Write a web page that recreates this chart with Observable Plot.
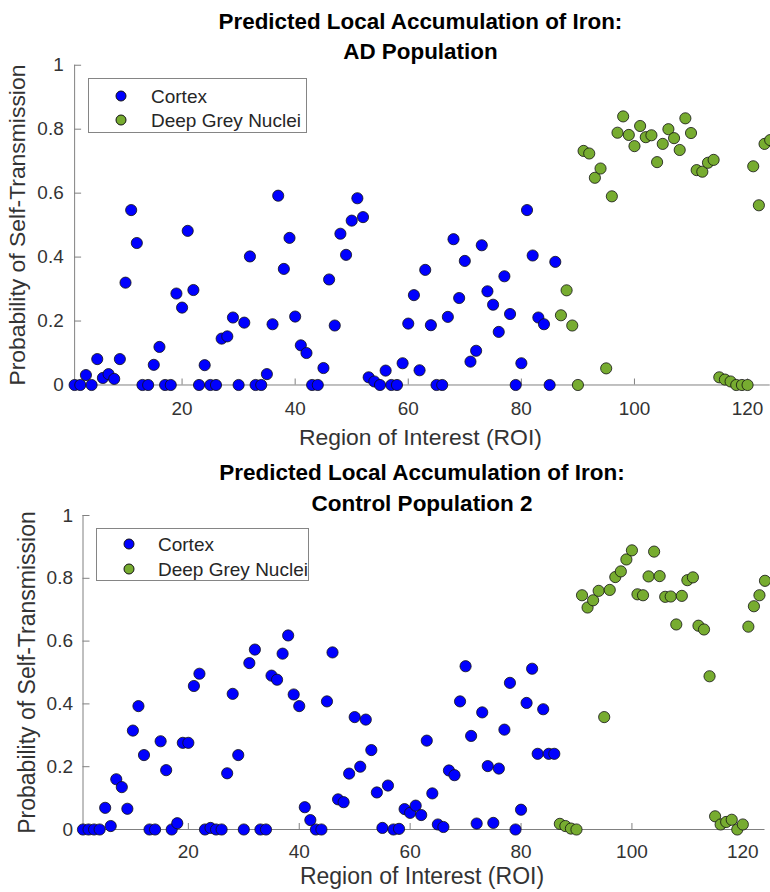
<!DOCTYPE html>
<html><head><meta charset="utf-8">
<script src="https://cdn.jsdelivr.net/npm/d3@7"></script>
<script src="https://cdn.jsdelivr.net/npm/@observablehq/plot@0.6"></script>
<style>
body{margin:0;background:#fff;font-family:"Liberation Sans",Arial,sans-serif;}
#wrap{position:relative;width:770px;height:892px;overflow:hidden;background:#fff;}
.legend{position:absolute;background:#fff;border:1px solid #858585;box-sizing:border-box;}
.legend .lab{position:absolute;font-size:19px;color:#262626;line-height:1;white-space:nowrap;transform:translateY(-50%);}
.legend .dot{position:absolute;width:11px;height:11px;border-radius:50%;border:0.8px solid #111;box-sizing:border-box;transform:translate(-50%,-50%);}
</style></head><body><div id="wrap"></div><script>
// ---- data ----
const xTicks = [20, 40, 60, 80, 100, 120];
const yTicks = [0, 0.2, 0.4, 0.6, 0.8, 1];
const yTickLabels = ["0", "0.2", "0.4", "0.6", "0.8", "1"];
const seriesNames = ["Cortex", "Deep Grey Nuclei"];
const seriesColors = ["#0000ff", "#77ac30"];
const titleLine1 = "Predicted Local Accumulation of Iron:";
const panelTitles = ["AD Population", "Control Population 2"];
const xLabel = "Region of Interest (ROI)";
const yLabel = "Probability of Self-Transmission";

// AD population: ROI 1-86 cortex, ROI 87-124 deep grey nuclei
const adCortex = [0,0,0.031,0,0.081,0.022,0.034,0.019,0.081,0.32,
  0.547,0.444,0,0,0.063,0.119,0,0,0.286,0.242,
  0.482,0.297,0,0.062,0,0,0.145,0.152,0.211,0,
  0.195,0.402,0,0,0.034,0.19,0.592,0.363,0.46,0.214,
  0.124,0.1,0,0,0.053,0.33,0.186,0.473,0.407,0.514,
  0.584,0.525,0.024,0.011,0,0.045,0,0,0.068,0.192,
  0.281,0.046,0.36,0.187,0,0,0.213,0.456,0.272,0.388,
  0.073,0.107,0.437,0.293,0.251,0.166,0.34,0.222,0,0.068,
  0.547,0.405,0.211,0.19,0,0.385];
const adDeepGrey = [0.218,0.296,0.186,0,0.732,0.724,0.648,0.677,0.052,0.59,
  0.789,0.84,0.782,0.747,0.81,0.775,0.781,0.697,0.754,0.8,
  0.772,0.735,0.834,0.788,0.672,0.667,0.695,0.704,0.024,0.017,
  0.011,0,0,0,0.684,0.562,0.754,0.766];

// Control population 2
const ctrlCortex = [0,0,0,0,0.069,0.011,0.16,0.135,0.066,0.315,
  0.393,0.237,0,0,0.281,0.189,0,0.02,0.276,0.276,
  0.457,0.496,0,0.005,0,0,0.179,0.432,0.237,0,
  0.53,0.573,0,0,0.49,0.477,0.56,0.618,0.43,0.393,
  0.071,0.03,0,0,0.408,0.564,0.096,0.087,0.178,0.358,
  0.2,0.35,0.253,0.118,0.005,0.14,0,0.002,0.065,0.053,
  0.076,0.046,0.283,0.115,0.016,0.008,0.188,0.173,0.408,0.52,
  0.298,0.019,0.373,0.202,0.021,0.194,0.318,0.467,0,0.063,
  0.403,0.512,0.241,0.383,0.241,0.241];
const ctrlDeepGrey = [0.018,0.011,0.003,0,0.746,0.707,0.73,0.76,0.358,0.763,
  0.804,0.822,0.86,0.889,0.749,0.746,0.806,0.885,0.807,0.741,
  0.742,0.653,0.744,0.794,0.803,0.649,0.637,0.488,0.042,0.016,
  0.024,0.031,0,0.016,0.646,0.711,0.746,0.792];

// ---- drawing ----
const wrap = document.getElementById("wrap");
const axisColor = "#808080";
const textColor = "#333333";
const font = '"Liberation Sans", Arial, sans-serif';

function toRows(cortex, deep) {
  const rows = cortex.map((v, i) => ({roi: i + 1, value: v, group: seriesNames[0]}));
  deep.forEach((v, i) => rows.push({roi: cortex.length + i + 1, value: v, group: seriesNames[1]}));
  return rows;
}

function makePanel(c) {
  const rows = toRows(c.cortex, c.deep);
  const svg = Plot.plot({
    width: c.width, height: c.height,
    marginTop: c.mTop, marginBottom: c.mBottom, marginLeft: c.mLeft, marginRight: c.mRight,
    x: {domain: [1, 124], axis: null},
    y: {domain: [0, 1], axis: null},
    color: {domain: seriesNames, range: seriesColors},
    style: {fontFamily: font, fontSize: "19px", background: "white", overflow: "visible", color: textColor},
    marks: [
      Plot.ruleY([0], {stroke: axisColor, strokeWidth: 1}),
      Plot.ruleX([1], {stroke: axisColor, strokeWidth: 1}),
      Plot.ruleX(xTicks, {x: d => d, y1: 0, y2: 0, insetBottom: 6, stroke: axisColor}),
      Plot.ruleY(yTicks, {y: d => d, x1: 1, x2: 1, insetLeft: 7, stroke: axisColor}),
      Plot.text(xTicks, {x: d => d, y: 0, text: d => String(d), dy: c.tickDy, lineAnchor: "bottom", fontSize: 19, fill: textColor}),
      Plot.text(yTicks, {x: 1, y: d => d, text: (d, i) => yTickLabels[i], dx: c.yTickDx, textAnchor: "end", lineAnchor: "middle", fontSize: 19, fill: textColor}),
      Plot.dot(rows, {x: "roi", y: "value", fill: "group", r: 5.6, stroke: "#111", strokeWidth: 0.8}),
      Plot.text([titleLine1], {frameAnchor: "top", dy: c.title1Dy, dx: -2, textAnchor: "middle", lineAnchor: "bottom", fontWeight: "bold", fontSize: 22.5, fill: "#000"}),
      Plot.text([c.title2], {frameAnchor: "top", dy: c.title2Dy, dx: -2, textAnchor: "middle", lineAnchor: "bottom", fontWeight: "bold", fontSize: 22.5, fill: "#000"}),
      Plot.text([xLabel], {frameAnchor: "bottom", dy: c.xLabelDy, dx: -2, textAnchor: "middle", lineAnchor: "bottom", fontSize: 23, fill: textColor}),
      Plot.text([yLabel], {frameAnchor: "left", rotate: -90, dx: c.yLabelX - c.mLeft, textAnchor: "middle", lineAnchor: "bottom", fontSize: 23, fill: textColor})
    ]
  });
  svg.style.position = "absolute";
  svg.style.left = "0px";
  svg.style.top = c.top + "px";
  wrap.appendChild(svg);

  // legend (HTML overlay)
  const L = c.legend;
  const box = document.createElement("div");
  box.className = "legend";
  Object.assign(box.style, {left: L.left + "px", top: L.top + "px", width: L.width + "px", height: L.height + "px"});
  seriesNames.forEach((name, i) => {
    const dot = document.createElement("div");
    dot.className = "dot";
    Object.assign(dot.style, {left: L.dotX + "px", top: L.rows[i] + "px", background: seriesColors[i]});
    const lab = document.createElement("div");
    lab.className = "lab";
    lab.textContent = name;
    Object.assign(lab.style, {left: L.textX + "px", top: L.rows[i] + "px"});
    box.appendChild(dot); box.appendChild(lab);
  });
  wrap.appendChild(box);
}

makePanel({
  cortex: adCortex, deep: adDeepGrey, title2: panelTitles[0],
  top: 0, width: 773, height: 455, mTop: 65, mBottom: 69, mLeft: 74.4, mRight: 0.3,
  tickDy: 30, yTickDx: -11, title1Dy: -36, title2Dy: -6, xLabelDy: 60, yLabelX: 25,
  legend: {left: 88, top: 78, width: 219, height: 55, dotX: 32, textX: 62, rows: [16.5, 40.5]}
});
makePanel({
  cortex: ctrlCortex, deep: ctrlDeepGrey, title2: panelTitles[1],
  top: 455, width: 770, height: 437, mTop: 60, mBottom: 63, mLeft: 82.5, mRight: 5.5,
  tickDy: 28, yTickDx: -10, title1Dy: -36, title2Dy: -5, xLabelDy: 54, yLabelX: 34,
  legend: {left: 96, top: 528, width: 213, height: 53, dotX: 31.5, textX: 61, rows: [15, 39.5]}
});
</script></body></html>
